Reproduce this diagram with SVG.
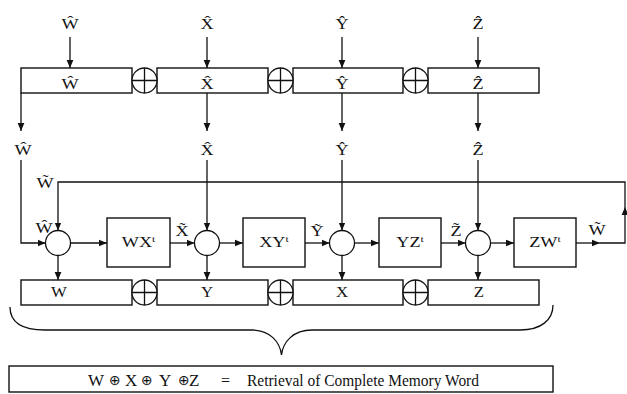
<svg xmlns="http://www.w3.org/2000/svg" width="627" height="394" viewBox="0 0 627 394">
<style>
.bx{fill:#fff;stroke:#111;stroke-width:1.4}
.ln{fill:none;stroke:#111;stroke-width:1.3}
.xo{fill:#fff;stroke:#111;stroke-width:1.3}
.t{font-family:"Liberation Serif","Times New Roman",serif;font-size:14px;fill:#111;text-anchor:middle}
.big{font-family:"Liberation Serif","Times New Roman",serif;font-size:17px;fill:#111}
.sym{font-family:"DejaVu Sans",sans-serif;font-size:14px;fill:#111}
.sm{font-family:"Liberation Serif","Times New Roman",serif;font-size:16px;fill:#111}
</style>
<defs>
<marker id="ah" viewBox="0 0 10 10" refX="10" refY="5" markerWidth="8" markerHeight="8" markerUnits="userSpaceOnUse" orient="auto"><path d="M0,0.8 L10,5 L0,9.2 z" fill="#111"/></marker>
<g id="xor"><circle class="xo" cx="0" cy="0" r="12.5"/><path class="ln" d="M0,-12.5 V12.5 M-12.5,0 H12.5"/></g>
</defs>
<rect width="627" height="394" fill="#fff"/>

<g id="connectors">
<path class="ln" marker-end="url(#ah)" d="M70,37 V68"/>
<path class="ln" marker-end="url(#ah)" d="M207,37 V68"/>
<path class="ln" marker-end="url(#ah)" d="M342,37 V68"/>
<path class="ln" marker-end="url(#ah)" d="M478,37 V68"/>
<path class="ln" marker-end="url(#ah)" d="M21,93 V131"/>
<path class="ln" marker-end="url(#ah)" d="M207,93 V131"/>
<path class="ln" marker-end="url(#ah)" d="M342,93 V131"/>
<path class="ln" marker-end="url(#ah)" d="M478,93 V131"/>
<path class="ln" marker-end="url(#ah)" d="M21,160 V243 H45.5"/>
<path class="ln" marker-end="url(#ah)" d="M207,160 V230.5"/>
<path class="ln" marker-end="url(#ah)" d="M342,160 V230.5"/>
<path class="ln" marker-end="url(#ah)" d="M478,160 V230.5"/>
<path class="ln" marker-end="url(#ah)" d="M70.5,243 H107"/>
<path class="ln" marker-end="url(#ah)" d="M170,243 H194.5"/>
<path class="ln" marker-end="url(#ah)" d="M219.5,243 H243"/>
<path class="ln" marker-end="url(#ah)" d="M305,243 H329.5"/>
<path class="ln" marker-end="url(#ah)" d="M354.5,243 H379"/>
<path class="ln" marker-end="url(#ah)" d="M441,243 H465.5"/>
<path class="ln" marker-end="url(#ah)" d="M490.5,243 H514"/>
<path class="ln" marker-end="url(#ah)" d="M576,243 H600"/>
<path class="ln" marker-end="url(#ah)" d="M600,243 H625 V207"/>
<path class="ln" marker-end="url(#ah)" d="M625,207 V182 H58 V230.5"/>
<path class="ln" marker-end="url(#ah)" d="M58,255.5 V280"/>
<path class="ln" marker-end="url(#ah)" d="M207,255.5 V280"/>
<path class="ln" marker-end="url(#ah)" d="M342,255.5 V280"/>
<path class="ln" marker-end="url(#ah)" d="M478,255.5 V280"/>
</g>

<g id="top-row">
<rect class="bx" x="21" y="68" width="111" height="25"/>
<rect class="bx" x="157" y="68" width="111" height="25"/>
<rect class="bx" x="293" y="68" width="110" height="25"/>
<rect class="bx" x="428" y="68" width="111" height="25"/>
<use href="#xor" x="144.5" y="80.5"/>
<use href="#xor" x="280.5" y="80.5"/>
<use href="#xor" x="415.5" y="80.5"/>
<text class="t" transform="translate(70,89) scale(1.3,1)">Ŵ</text>
<text class="t" transform="translate(207,89) scale(1.3,1)">X̂</text>
<text class="t" transform="translate(342,89) scale(1.3,1)">Ŷ</text>
<text class="t" transform="translate(478,89) scale(1.3,1)">Ẑ</text>
</g>

<g id="inputs">
<text class="t" transform="translate(70,29) scale(1.3,1)">Ŵ</text>
<text class="t" transform="translate(207,29) scale(1.3,1)">X̂</text>
<text class="t" transform="translate(342,29) scale(1.3,1)">Ŷ</text>
<text class="t" transform="translate(478,29) scale(1.3,1)">Ẑ</text>
<text class="t" transform="translate(23,155) scale(1.3,1)">Ŵ</text>
<text class="t" transform="translate(207,155) scale(1.3,1)">X̂</text>
<text class="t" transform="translate(342,155) scale(1.3,1)">Ŷ</text>
<text class="t" transform="translate(478,155) scale(1.3,1)">Ẑ</text>
<text class="t" transform="translate(45,188) scale(1.3,1)">W̃</text>
<text class="t" transform="translate(44,233) scale(1.3,1)">Ŵ</text>
<text class="t" transform="translate(182,236) scale(1.3,1)">X̃</text>
<text class="t" transform="translate(317,236) scale(1.3,1)">Ỹ</text>
<text class="t" transform="translate(456,236) scale(1.3,1)">Z̃</text>
<text class="t" transform="translate(597,235) scale(1.3,1)">W̃</text>
</g>

<g id="mixers">
<circle class="xo" cx="58" cy="243" r="12.5"/>
<circle class="xo" cx="207" cy="243" r="12.5"/>
<circle class="xo" cx="342" cy="243" r="12.5"/>
<circle class="xo" cx="478" cy="243" r="12.5"/>
</g>

<g id="box-wx"><rect class="bx" x="107" y="218" width="63" height="49"/><text class="t" transform="translate(138.5,247) scale(1.3,1)">WX<tspan font-size="9" dy="-5">t</tspan></text></g>
<g id="box-xy"><rect class="bx" x="243" y="218" width="62" height="49"/><text class="t" transform="translate(274,247) scale(1.3,1)">XY<tspan font-size="9" dy="-5">t</tspan></text></g>
<g id="box-yz"><rect class="bx" x="379" y="218" width="62" height="49"/><text class="t" transform="translate(410,247) scale(1.3,1)">YZ<tspan font-size="9" dy="-5">t</tspan></text></g>
<g id="box-zw"><rect class="bx" x="514" y="218" width="62" height="49"/><text class="t" transform="translate(545,247) scale(1.3,1)">ZW<tspan font-size="9" dy="-5">t</tspan></text></g>

<g id="bottom-row">
<rect class="bx" x="21" y="280" width="111" height="25"/>
<rect class="bx" x="157" y="280" width="111" height="25"/>
<rect class="bx" x="293" y="280" width="110" height="25"/>
<rect class="bx" x="428" y="280" width="111" height="25"/>
<use href="#xor" x="144.5" y="292.5"/>
<use href="#xor" x="280.5" y="292.5"/>
<use href="#xor" x="415.5" y="292.5"/>
<text class="t" transform="translate(59,297) scale(1.2,1)">W</text>
<text class="t" transform="translate(207,297) scale(1.2,1)">Y</text>
<text class="t" transform="translate(342,297) scale(1.2,1)">X</text>
<text class="t" transform="translate(479,297) scale(1.2,1)">Z</text>
</g>

<g id="brace">
<path class="ln" d="M10,307 C10,322 22,330 45,330 L252,330 C270,330 280,342 281.5,355 C283,342 293,330 312,330 L520,330 C541,330 553,320 553,305"/>
</g>

<g id="result">
<rect class="bx" x="9" y="366" width="544" height="26"/>
<text class="big" x="88" y="386">W</text>
<text class="sym" x="109" y="385">⊕</text>
<text class="big" x="125" y="386">X</text>
<text class="sym" x="141" y="385">⊕</text>
<text class="big" x="159" y="386">Y</text>
<text class="sym" x="178" y="385">⊕</text>
<text class="big" x="189" y="386">Z</text>
<text class="sm" x="221" y="386">=</text>
<text class="sm" x="247" y="386" textLength="232" lengthAdjust="spacingAndGlyphs">Retrieval of Complete Memory Word</text>
</g>
</svg>
